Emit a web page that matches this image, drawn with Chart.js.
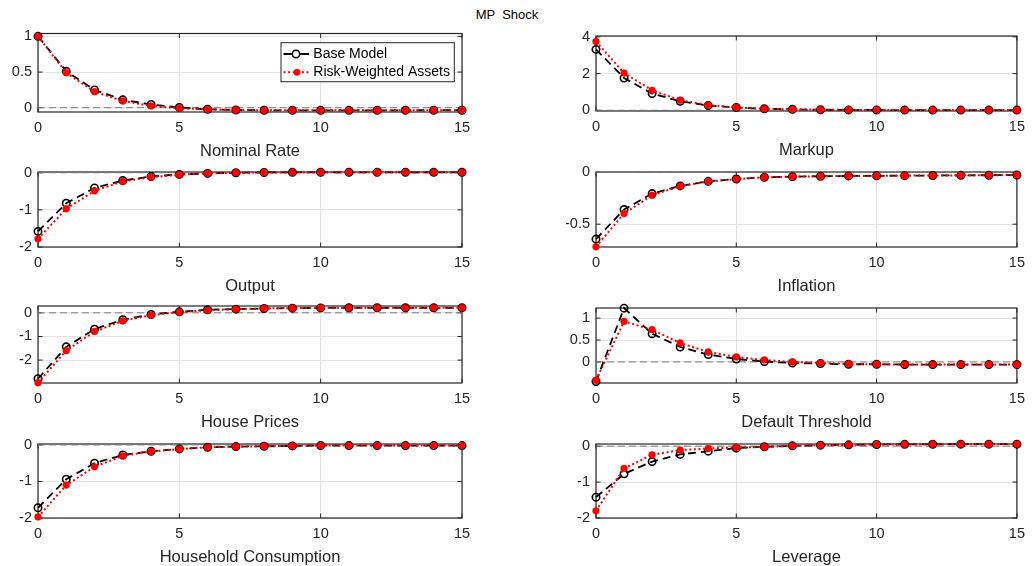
<!DOCTYPE html>
<html><head><meta charset="utf-8">
<script src="https://cdn.jsdelivr.net/npm/chart.js@4.4.1/dist/chart.umd.min.js"></script>
<style>
html,body{margin:0;padding:0;background:#fff;}
#fig{position:relative;width:1032px;height:566px;overflow:hidden;background:#fff;}
#fig canvas{position:absolute;left:0;top:0;}
#title{position:absolute;left:0;width:1014px;top:7px;line-height:15px;text-align:center;font-size:13px;font-family:"Liberation Sans",Arial,sans-serif;color:#000;white-space:pre;}
</style></head><body>
<div id="fig"><div id="title">MP  Shock</div></div>
<script>
// ---------------- data ----------------
const periods = [0,1,2,3,4,5,6,7,8,9,10,11,12,13,14,15];
const xTicks = [0,5,10,15];
const seriesNames = ['Base Model','Risk-Weighted Assets'];
const panelTitles = ['Nominal Rate','Markup','Output','Inflation','House Prices','Default Threshold','Household Consumption','Leverage'];

const nominalRateBase = [1,0.51,0.25,0.11,0.045,0.003,-0.022,-0.032,-0.036,-0.037,-0.037,-0.037,-0.036,-0.036,-0.035,-0.035];
const nominalRateRWA  = [1,0.49,0.225,0.095,0.025,-0.008,-0.024,-0.032,-0.036,-0.037,-0.037,-0.037,-0.036,-0.036,-0.035,-0.035];
const nominalRateTicks = [0,0.5,1];

const markupBase = [3.32,1.76,0.91,0.49,0.26,0.15,0.08,0.05,0.03,0.02,0.015,0.01,0.01,0.01,0.01,0.01];
const markupRWA  = [3.75,2.03,1.09,0.55,0.28,0.15,0.08,0.05,0.03,0.02,0.015,0.01,0.01,0.01,0.01,0.01];
const markupTicks = [0,2,4];

const outputBase = [-1.58,-0.82,-0.41,-0.21,-0.10,-0.045,-0.018,0.0,0.008,0.01,0.012,0.012,0.012,0.012,0.012,0.012];
const outputRWA  = [-1.78,-0.97,-0.49,-0.23,-0.12,-0.054,-0.018,0.0,0.008,0.01,0.012,0.012,0.012,0.012,0.012,0.012];
const outputTicks = [-2,-1,0];

const inflationBase = [-0.644,-0.359,-0.205,-0.131,-0.087,-0.064,-0.048,-0.042,-0.038,-0.035,-0.034,-0.032,-0.031,-0.029,-0.028,-0.026];
const inflationRWA  = [-0.718,-0.397,-0.221,-0.133,-0.089,-0.065,-0.049,-0.042,-0.038,-0.035,-0.034,-0.032,-0.031,-0.029,-0.028,-0.026];
const inflationTicks = [-0.5,0];

const housePricesBase = [-2.79,-1.44,-0.69,-0.29,-0.07,0.043,0.13,0.157,0.186,0.2,0.21,0.214,0.214,0.214,0.214,0.214];
const housePricesRWA  = [-2.96,-1.60,-0.79,-0.34,-0.10,0.029,0.114,0.157,0.186,0.2,0.21,0.214,0.214,0.214,0.214,0.214];
const housePricesTicks = [-2,-1,0];

const defaultThresholdBase = [-0.447,1.227,0.644,0.341,0.167,0.068,0.008,-0.023,-0.038,-0.053,-0.053,-0.06,-0.06,-0.06,-0.06,-0.06];
const defaultThresholdRWA  = [-0.417,0.924,0.735,0.432,0.227,0.114,0.045,0.0,-0.023,-0.045,-0.053,-0.06,-0.06,-0.06,-0.06,-0.06];
const defaultThresholdTicks = [0,0.5,1];

const consumptionBase = [-1.72,-0.94,-0.50,-0.275,-0.174,-0.11,-0.064,-0.046,-0.037,-0.028,-0.018,-0.018,-0.018,-0.018,-0.018,-0.018];
const consumptionRWA  = [-1.97,-1.10,-0.60,-0.30,-0.18,-0.115,-0.066,-0.047,-0.037,-0.028,-0.018,-0.018,-0.018,-0.018,-0.018,-0.018];
const consumptionTicks = [-2,-1,0];

const leverageBase = [-1.42,-0.77,-0.43,-0.23,-0.14,-0.055,-0.018,0.009,0.028,0.037,0.046,0.05,0.053,0.055,0.055,0.055];
const leverageRWA  = [-1.80,-0.62,-0.24,-0.11,-0.065,-0.037,-0.018,0.009,0.028,0.037,0.046,0.05,0.053,0.055,0.055,0.055];
const leverageTicks = [-2,-1,0];

const yLimits = [[-0.06,1.04],[-0.04,4.05],[-2,0.02],[-0.72,0.003],[-2.97,0.29],[-0.48,1.23],[-2,0.025],[-2,0.06]];

// ---------------- layout / style ----------------
const colLeft = [38, 596], colRight = [462, 1021];
const rowTop = [[33.5,172,306,444],[36,172,308,444]];
const rowBottom = [[112,247,383,518],[111,247,383,518]];
const XH = 48, YW = 30;
const TXT = '#262626', GRID = '#e3e3e3', AXC = '#262626';
Chart.defaults.font.family = '"Liberation Sans", Arial, sans-serif';

const panels = [
  {title: panelTitles[0], base: nominalRateBase, rwa: nominalRateRWA, yticks: nominalRateTicks, ylim: yLimits[0]},
  {title: panelTitles[1], base: markupBase, rwa: markupRWA, yticks: markupTicks, ylim: yLimits[1]},
  {title: panelTitles[2], base: outputBase, rwa: outputRWA, yticks: outputTicks, ylim: yLimits[2]},
  {title: panelTitles[3], base: inflationBase, rwa: inflationRWA, yticks: inflationTicks, ylim: yLimits[3]},
  {title: panelTitles[4], base: housePricesBase, rwa: housePricesRWA, yticks: housePricesTicks, ylim: yLimits[4]},
  {title: panelTitles[5], base: defaultThresholdBase, rwa: defaultThresholdRWA, yticks: defaultThresholdTicks, ylim: yLimits[5]},
  {title: panelTitles[6], base: consumptionBase, rwa: consumptionRWA, yticks: consumptionTicks, ylim: yLimits[6]},
  {title: panelTitles[7], base: leverageBase, rwa: leverageRWA, yticks: leverageTicks, ylim: yLimits[7]}
];

const boxPlugin = {
  id: 'mbox',
  beforeDatasetsDraw(chart) {
    const {ctx, chartArea: a, scales: {x, y}} = chart;
    ctx.save();
    ctx.strokeStyle = AXC; ctx.lineWidth = 1.2;
    ctx.strokeRect(a.left, a.top, a.right - a.left, a.bottom - a.top);
    ctx.lineWidth = 1;
    const tl = 4.5;
    ctx.beginPath();
    x.ticks.forEach(t => {
      const px = x.getPixelForValue(t.value);
      ctx.moveTo(px, a.bottom); ctx.lineTo(px, a.bottom - tl);
      ctx.moveTo(px, a.top); ctx.lineTo(px, a.top + tl);
    });
    y.ticks.forEach(t => {
      const py = y.getPixelForValue(t.value);
      ctx.moveTo(a.left, py); ctx.lineTo(a.left + tl, py);
      ctx.moveTo(a.right, py); ctx.lineTo(a.right - tl, py);
    });
    ctx.stroke();
    ctx.restore();
  }
};

const legendPlugin = {
  id: 'mlegend',
  afterDraw(chart) {
    const ctx = chart.ctx;
    const bx = 281, by = 42.7, bw = 173.3, bh = 39;
    ctx.save();
    ctx.fillStyle = '#fff';
    ctx.fillRect(bx, by, bw, bh);
    ctx.strokeStyle = AXC; ctx.lineWidth = 1;
    ctx.strokeRect(bx, by, bw, bh);
    const x0 = bx + 2.5, x1 = bx + 28, xm = bx + 15;
    const ds = chart.data.datasets;
    const base = ds.find(d => d.label === seriesNames[0]);
    const rwa = ds.find(d => d.label === seriesNames[1]);
    // row 1: base
    let yy = by + 11.3;
    ctx.strokeStyle = base.borderColor; ctx.lineWidth = base.borderWidth;
    ctx.beginPath(); ctx.moveTo(x0, yy); ctx.lineTo(xm - 4, yy); ctx.moveTo(xm + 4, yy); ctx.lineTo(x1, yy); ctx.stroke();
    ctx.lineWidth = base.pointBorderWidth;
    ctx.beginPath(); ctx.arc(xm, yy, base.pointRadius, 0, Math.PI * 2); ctx.stroke();
    // row 2: rwa
    yy = by + 29.6;
    ctx.strokeStyle = rwa.borderColor; ctx.lineWidth = rwa.borderWidth;
    ctx.setLineDash(rwa.borderDash);
    ctx.beginPath(); ctx.moveTo(x0, yy); ctx.lineTo(x1 + 1.5, yy); ctx.stroke();
    ctx.setLineDash([]);
    ctx.fillStyle = rwa.pointBackgroundColor;
    ctx.beginPath(); ctx.arc(xm + 1, yy, rwa.pointRadius, 0, Math.PI * 2); ctx.fill();
    // text
    ctx.fillStyle = '#000';
    ctx.font = '14px "Liberation Sans", Arial, sans-serif';
    ctx.textBaseline = 'middle'; ctx.textAlign = 'left';
    ctx.fillText(base.label, bx + 32.3, by + 11.3);
    ctx.fillText(rwa.label, bx + 32.3, by + 29.6);
    ctx.restore();
  }
};

const fig = document.getElementById('fig');
panels.forEach((p, i) => {
  const col = i % 2, row = Math.floor(i / 2);
  const L = colLeft[col], R = colRight[col], T = rowTop[col][row], B = rowBottom[col][row];
  const c = document.createElement('canvas');
  c.width = 1032; c.height = 566;
  fig.appendChild(c);
  new Chart(c, {
    type: 'line',
    data: {
      datasets: [
        {label: seriesNames[1], data: periods.map((t, k) => ({x: t, y: p.rwa[k]})),
         borderColor: '#ff0000', borderWidth: 2, borderDash: [2, 2.6], borderCapStyle: 'butt',
         pointRadius: 3.4, pointBackgroundColor: '#ff0000', pointBorderColor: '#ff0000', pointBorderWidth: 0.5,
         tension: 0, order: 0, clip: false},
        {label: seriesNames[0], data: periods.map((t, k) => ({x: t, y: p.base[k]})),
         borderColor: '#000000', borderWidth: 1.8, borderDash: [8, 5],
         pointRadius: 3.7, pointBackgroundColor: 'rgba(0,0,0,0)', pointBorderColor: '#000000', pointBorderWidth: 1.6,
         tension: 0, order: 1, clip: false},
        {label: 'zero', data: [{x: periods[0], y: 0}, {x: periods[periods.length - 1], y: 0}],
         borderColor: '#7a7a7a', borderWidth: 1, borderDash: [7, 4], pointRadius: 0, tension: 0, order: 2}
      ]
    },
    options: {
      responsive: false, animation: false, devicePixelRatio: 1,
      layout: {padding: {left: L - YW, right: 1032 - R, top: T, bottom: 566 - B - XH}},
      plugins: {legend: {display: false}, tooltip: {enabled: false}, title: {display: false}},
      scales: {
        x: {
          type: 'linear', min: periods[0], max: periods[periods.length - 1],
          afterBuildTicks: s => { s.ticks = xTicks.map(v => ({value: v})); },
          afterFit: s => { s.height = XH; },
          grid: {color: GRID, drawTicks: false, lineWidth: 1},
          border: {display: false},
          ticks: {padding: 7, color: TXT, font: {size: 14.5}, maxRotation: 0, autoSkip: false, callback: v => String(v)},
          title: {display: true, text: p.title, color: TXT, font: {size: 16.5, lineHeight: 1}, padding: {top: 0, bottom: 0}}
        },
        y: {
          type: 'linear', min: p.ylim[0], max: p.ylim[1],
          afterBuildTicks: s => { s.ticks = p.yticks.map(v => ({value: v})); },
          afterFit: s => { s.width = YW; },
          grid: {color: GRID, drawTicks: false, lineWidth: 1},
          border: {display: false},
          ticks: {padding: 6, color: TXT, font: {size: 14.5}, autoSkip: false, callback: v => String(v)}
        }
      }
    },
    plugins: i === 0 ? [boxPlugin, legendPlugin] : [boxPlugin]
  });
});
</script>
</body></html>
